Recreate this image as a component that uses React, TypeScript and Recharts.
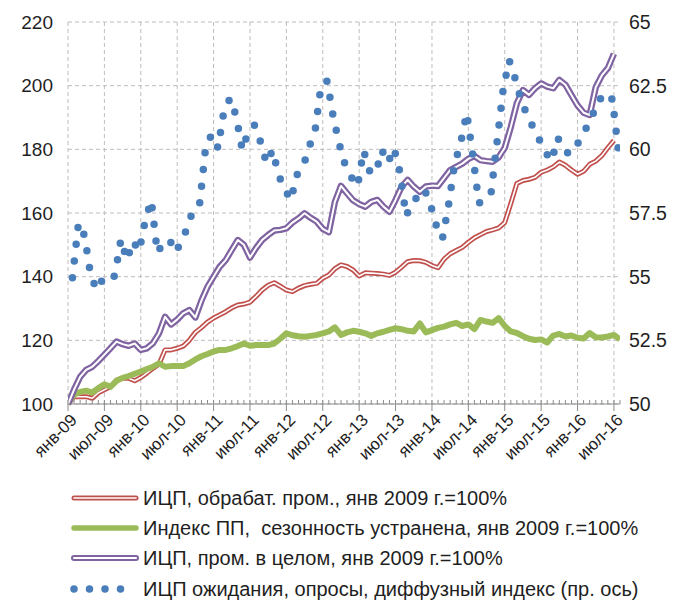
import React from 'react';
import { LineChart, Line, XAxis, YAxis, CartesianGrid, ReferenceLine } from 'recharts';

const X_LABELS = [
  'янв-09', 'июл-09', 'янв-10', 'июл-10', 'янв-11', 'июл-11', 'янв-12', 'июл-12',
  'янв-13', 'июл-13', 'янв-14', 'июл-14', 'янв-15', 'июл-15', 'янв-16', 'июл-16',
];
const LEFT_TICKS = [100, 120, 140, 160, 180, 200, 220];
const RIGHT_TICKS = [50, 52.5, 55, 57.5, 60, 62.5, 65];

// ИЦП, обрабат. пром., янв 2009 г.=100%  (monthly, янв-09 .. июл-16)
const PPI_MANUF = [
  100, 102.3, 102.3, 102.3, 101.8, 103.5, 104.5, 105.4, 107.5, 108.1,
  108.1, 107.3, 108.3, 109.7, 111.2, 112.5, 117.0, 117.0, 117.5, 118.2,
  120.0, 122.5, 124.0, 125.7, 127.0, 128.0, 129.0, 130.2, 131.1, 131.4,
  132.0, 133.8, 135.8, 137.3, 138.1, 137.0, 135.8, 135.3, 136.4, 137.2,
  137.6, 137.9, 139.5, 140.5, 142.5, 143.7, 143.2, 142.1, 140.2, 141.2,
  141.1, 141.0, 140.8, 140.4, 141.4, 143.0, 144.7, 145.1, 145.0, 144.5,
  143.5, 142.8, 145.5, 147.2, 148.2, 149.2, 150.8, 152.2, 153.2, 154.2,
  154.7, 155.3, 157.0, 163.0, 169.3, 170.2, 170.6, 171.2, 172.8, 173.5,
  174.5, 176.0, 175.0, 173.5, 172.2, 173.1, 175.3, 176.3, 178.0, 180.5,
  182.8,
];

// Индекс ПП, сезонность устранена, янв 2009 г.=100%  (янв-09 .. авг-16)
const IP_INDEX = [
  100, 103.0, 103.8, 104.2, 103.6, 105.0, 106.2, 105.4, 107.3, 108.2,
  108.8, 109.5, 110.2, 111.0, 111.7, 112.8, 111.7, 111.9, 111.9, 111.9,
  112.8, 114.0, 115.0, 115.7, 116.5, 117.0, 117.0, 117.5, 118.2, 119.0,
  118.3, 118.5, 118.5, 118.5, 119.0, 120.5, 122.2, 121.6, 121.3, 121.1,
  121.4, 121.7, 122.2, 122.8, 124.1, 121.7, 122.5, 123.0, 122.7, 122.2,
  121.4, 122.2, 122.7, 123.3, 123.8, 123.5, 123.0, 122.8, 125.3, 122.5,
  123.2, 123.9, 124.3, 125.0, 125.5, 124.5, 125.0, 123.5, 126.4, 125.9,
  125.5, 127.0, 124.5, 122.8, 122.3, 121.3, 120.5, 120.1, 120.3, 119.3,
  121.5, 122.0, 121.2, 121.5, 120.8, 120.6, 122.3, 121.0, 120.9, 121.2,
  121.7, 120.3,
];

// ИЦП, пром. в целом, янв 2009 г.=100%  (янв-09 .. июл-16)
const PPI_TOTAL = [
  100, 104.5, 108.5, 110.7, 111.7, 113.5, 115.5, 117.5, 119.6, 118.8,
  118.3, 119.0, 117.0, 117.5, 119.1, 122.2, 127.4, 125.0, 126.5, 128.5,
  129.5, 127.2, 132.5, 136.8, 140.0, 143.1, 145.2, 148.4, 151.5, 150.0,
  146.0, 149.0, 151.5, 153.1, 154.5, 154.7, 155.2, 157.0, 158.3, 159.9,
  158.5, 157.3, 155.0, 154.0, 163.5, 168.5, 166.2, 164.0, 162.8, 162.0,
  163.5, 164.1, 162.0, 160.4, 164.1, 168.3, 170.4, 168.3, 166.7, 168.3,
  168.6, 168.5, 171.0, 173.5, 174.5, 175.5, 177.0, 177.9, 176.6, 176.3,
  176.1, 177.5, 180.5, 187.0, 194.5, 198.6, 197.1, 199.2, 200.7, 199.7,
  199.2, 201.8, 200.3, 197.0, 193.8, 191.5, 190.8, 199.5, 203.2, 205.5,
  210.0,
];

// ИЦП ожидания, опросы, диффузный индекс (пр. ось)
const PPI_EXPECT = [
  54.96, 57.1, 56.6, 55.07, 54.48, 54.9, 54.8, 55.05, 56.47, 55.65,
  56.4, 56.0, 57.2, 58.0, 55.94, 56.35, 56.45, 55.95, 56.4, 56.95,
  57.72, 57.9, 60.17, 60.58, 60.05, 61.55, 62.0, 61.3, 59.97, 60.7,
  60.95, 60.3, 59.46, 59.97, 58.98, 58.44, 58.0, 58.99, 59.3, 60.08,
  60.72, 62.53, 62.68, 61.27, 60.2, 59.35, 58.9, 58.55, 59.95, 59.15,
  59.05, 59.97, 59.46, 60.05, 59.1, 57.38, 57.9, 58.17, 58.44, 57.84,
  57.0, 56.49, 57.8, 59.42, 60.25, 61.43, 59.78, 57.89, 58.0, 58.25,
  60.29, 62.33, 63.5, 62.77, 61.9, 61.33, 60.84, 60.37, 59.88, 59.54,
  60.46, 59.97, 59.8, 60.1, 60.51, 60.97, 61.49, 62.0, 61.74, 62.0,
  59.97,
];
// survey date position within the month (fraction of a month)
const EXPECT_DATE_FRACTION = 0.73;

const LEGEND_LABELS = [
  'ИЦП, обрабат. пром., янв 2009 г.=100%',
  'Индекс ПП,  сезонность устранена, янв 2009 г.=100%',
  'ИЦП, пром. в целом, янв 2009 г.=100%',
  'ИЦП ожидания, опросы, диффузный индекс (пр. ось)',
];

const mainData = IP_INDEX.map((v, i) => ({
  m: i,
  green: v,
  red: PPI_MANUF[i],
  purple: PPI_TOTAL[i],
}));
const blueData = PPI_EXPECT.map((v, i) => ({ m: i + EXPECT_DATE_FRACTION, blue: v }));

const MONTHS = Array.from({ length: 92 }, (_, i) => i);
const MAJOR = X_LABELS.map((_, i) => i * 6);

const FONT = "'Liberation Sans', Arial, sans-serif";
const TEXT = '#1f1f1f';
const RED = '#c0504d';
const GREEN = '#9bbb59';
const PURPLE = '#8064a2';
const BLUE = '#4a7ebb';
const GRID = '#bdbdbd';
const AXIS = '#8c8c8c';

const XTick = (props: any) => {
  const { x, y, payload } = props;
  const m = payload.value;
  const major = m % 6 === 0;
  return (
    <g>
      {major ? (
        <line x1={x} x2={x} y1={y - 4} y2={y + 7} stroke={AXIS} strokeWidth={1} />
      ) : (
        <line x1={x} x2={x} y1={y - 4} y2={y} stroke={AXIS} strokeWidth={1} />
      )}
      {major && (
        <text
          transform={`translate(${x + 10},${y + 17}) rotate(-45)`}
          textAnchor="end"
          fontFamily={FONT}
          fontSize={17}
          fill={TEXT}
        >
          {X_LABELS[m / 6]}
        </text>
      )}
    </g>
  );
};

const fmtRight = (v: number) => (Number.isInteger(v) ? String(v) : v.toFixed(1));

const Legend = () => {
  const rows = [498, 528, 558, 589];
  const x1 = 74;
  const x2 = 136;
  return (
    <svg width={680} height={606} style={{ position: 'absolute', left: 0, top: 0, pointerEvents: 'none' }}>
      <line x1={x1} x2={x2} y1={rows[0]} y2={rows[0]} stroke={RED} strokeWidth={5} strokeLinecap="round" />
      <line x1={x1} x2={x2} y1={rows[0]} y2={rows[0]} stroke="#fff" strokeWidth={1.6} strokeLinecap="round" />
      <line x1={x1} x2={x2} y1={rows[1]} y2={rows[1]} stroke={GREEN} strokeWidth={5.5} strokeLinecap="round" />
      <line x1={x1} x2={x2} y1={rows[2]} y2={rows[2]} stroke={PURPLE} strokeWidth={6} strokeLinecap="round" />
      <line x1={x1} x2={x2} y1={rows[2]} y2={rows[2]} stroke="#fff" strokeWidth={2} strokeLinecap="round" />
      <line x1={x1} x2={x2} y1={rows[3]} y2={rows[3]} stroke={BLUE} strokeWidth={7.5} strokeLinecap="round" strokeDasharray="0 15.5" />
      {LEGEND_LABELS.map((t, i) => (
        <text
          key={i}
          x={143}
          y={rows[i] + 7}
          fontFamily={FONT}
          fontSize={20}
          fill={TEXT}
          style={{ whiteSpace: 'pre' }}
        >
          {t}
        </text>
      ))}
    </svg>
  );
};

export default function App() {
  return (
    <div style={{ position: 'absolute', left: 0, top: 0, width: 680, height: 606, background: '#fff' }}>
      <LineChart
        width={680}
        height={480}
        data={mainData}
        margin={{ top: 22, right: 0, bottom: 0, left: 0 }}
      >
        <CartesianGrid
          yAxisId="l"
          vertical={false}
          stroke={GRID}
          strokeDasharray="4 3"
        />
        {MAJOR.map((m) => (
          <ReferenceLine key={m} x={m} yAxisId="l" stroke={GRID} strokeDasharray="4 3" />
        ))}
        <XAxis
          dataKey="m"
          type="number"
          domain={[0, 91]}
          ticks={MONTHS}
          interval={0}
          allowDataOverflow
          height={76}
          tickSize={0}
          tickMargin={0}
          tickLine={false}
          axisLine={{ stroke: AXIS }}
          tick={<XTick />}
        />
        <YAxis
          yAxisId="l"
          domain={[100, 220]}
          ticks={LEFT_TICKS}
          width={68}
          axisLine={false}
          tickLine={false}
          tickSize={0}
          tickMargin={15}
          tick={{ fontFamily: FONT, fontSize: 19, fill: TEXT }}
        />
        <YAxis
          yAxisId="r"
          orientation="right"
          domain={[50, 65]}
          ticks={RIGHT_TICKS}
          width={60}
          axisLine={false}
          tickLine={false}
          tickSize={0}
          tickMargin={9}
          tickFormatter={fmtRight}
          tick={{ fontFamily: FONT, fontSize: 19.5, fill: TEXT, textAnchor: 'start' }}
        />
        <Line yAxisId="l" dataKey="red" type="linear" stroke={RED} strokeWidth={5} dot={false} isAnimationActive={false} strokeLinejoin="round" />
        <Line yAxisId="l" dataKey="red" type="linear" stroke="#fff" strokeWidth={1.6} dot={false} isAnimationActive={false} strokeLinejoin="round" />
        <Line yAxisId="l" dataKey="green" type="linear" stroke={GREEN} strokeWidth={6} dot={false} isAnimationActive={false} strokeLinejoin="round" />
        <Line yAxisId="l" dataKey="purple" type="linear" stroke={PURPLE} strokeWidth={6.5} dot={false} isAnimationActive={false} strokeLinejoin="round" />
        <Line yAxisId="l" dataKey="purple" type="linear" stroke="#fff" strokeWidth={2} dot={false} isAnimationActive={false} strokeLinejoin="round" />
        <Line
          yAxisId="r"
          data={blueData}
          dataKey="blue"
          type="linear"
          stroke={BLUE}
          strokeWidth={7.5}
          strokeLinecap="round"
          strokeDasharray="0 16.8"
          dot={false}
          isAnimationActive={false}
        />
      </LineChart>
      <Legend />
    </div>
  );
}
